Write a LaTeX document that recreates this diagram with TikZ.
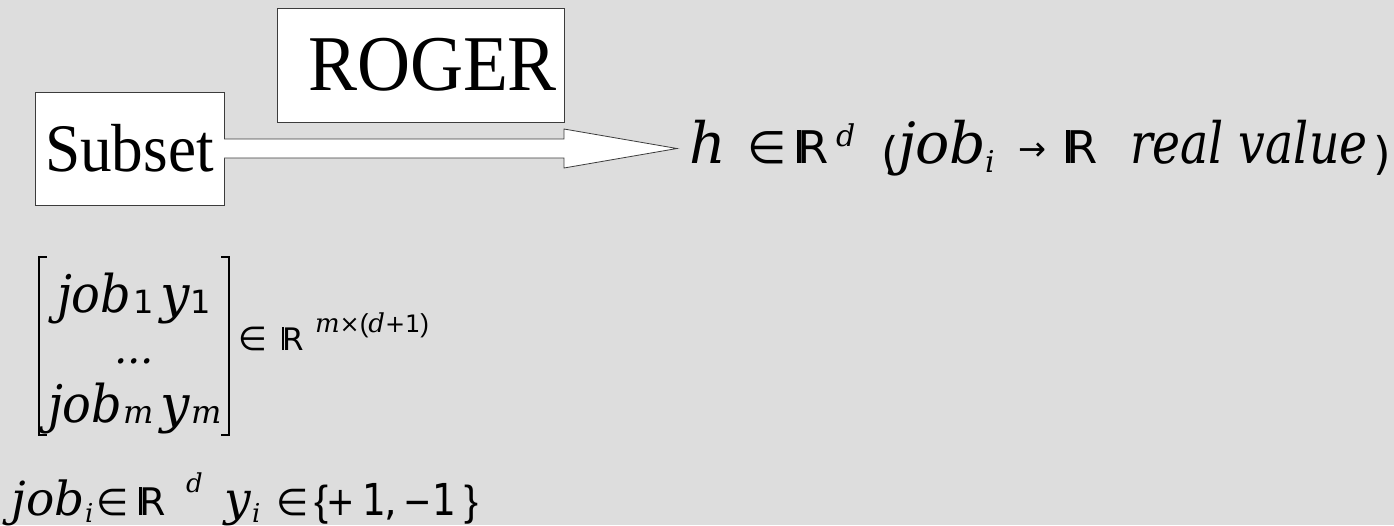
\documentclass[tikz,border=0pt]{standalone}
\usepackage{fontspec}
\usepackage{graphicx}
\usetikzlibrary{calc}
\newfontfamily\fser{DejaVu Serif}
\newfontfamily\fsan{DejaVu Sans}
\newfontfamily\fari{Liberation Sans}
\newfontfamily\ftim{Liberation Serif}
\newcommand\It[3][1]{\scalebox{#1}[1]{\fontsize{#2}{#2}\selectfont\fser\itshape #3}}
\newcommand\Sn[3][1]{\scalebox{#1}[1]{\fontsize{#2}{#2}\selectfont\fsan #3}}
\newcommand\Ar[2]{\scalebox{1}[1]{\fontsize{#1}{#1}\selectfont\fari #2}}
\newcommand\dR[1]{{\fontsize{#1}{#1}\selectfont\fsan\rule{0.08em}{0.729em}\kern-0.06em R}}
\definecolor{bgc}{RGB}{221,221,221}
\definecolor{edge}{RGB}{60,60,60}
\tikzset{
  t/.style={anchor=base west, inner sep=0pt, outer sep=0pt, text=black},
  glyph/.style={inner sep=0pt, outer sep=0pt, text=black},
  boxnode/.style={draw=edge, line width=1pt, fill=white, inner sep=0pt, outer sep=0pt},
  bigarrow/.style={draw=edge, line width=0.8pt, fill=white, line join=miter},
  brk/.style={line width=2.2pt, black}
}
\begin{document}
\begin{tikzpicture}[x=1pt,y=1pt]
\fill[bgc] (0,0) rectangle (1394,-525);
\useasboundingbox (0,0) rectangle (1394,-525);
% boxes
\node[boxnode, minimum width=189pt, minimum height=113pt] (subset) at (129.5,-148.5)
  {\raisebox{-3pt}{\scalebox{0.93}[1]{\fontsize{68}{68}\selectfont\ftim Subset}}};
\node[boxnode, minimum width=287pt, minimum height=114pt] (roger) at (420.5,-65)
  {\makebox[273pt][r]{\scalebox{0.93}[1]{\fontsize{79}{79}\selectfont\ftim ROGER}}};
% arrow
\coordinate (tip) at (677,-148.5);
\coordinate (hb) at (564,-148.5);
\draw[bigarrow] ($(subset.east)+(0,9.5)$) -- ($(hb)+(0,9.5)$) -- ($(hb)+(0,19.5)$) -- (tip)
  -- ($(hb)+(0,-19.5)$) -- ($(hb)+(0,-9.5)$) -- ($(subset.east)+(0,-9.5)$);
% top formula
\node[t] (h) at (689,-163) {\It{57}{h}};
\node[t] (in1) at (747,-163) {\Sn{45}{∈}};
\node[t] (R1) at (797,-163) {\dR{45}};
\node[t] (d1) at (836,-146) {\It{30}{d}};
\node[glyph, anchor=north west] (lp) at (881,-135) {\resizebox*{!}{40pt}{\fsan(}};
\node[t] (job1) at (898,-163) {\It{57}{job}};
\node[t] (i1) at (985,-172) {\It{30}{i}};
\node[glyph, anchor=west] (ar) at (1018,-152) {\resizebox{28pt}{!}{\fsan →}};
\node[t] (R2) at (1066,-163) {\dR{45}};
\node[t] (rv) at (1130,-163) {\It[0.83]{57}{real value}};
\node[glyph, anchor=north west] (rp) at (1373,-135) {\resizebox*{!}{40pt}{\fsan)}};
% matrix
\node[t] (mj1) at (57,-312) {\It[0.92]{52}{job}};
\node[t] (ms1) at (133,-313) {\Sn{32}{1}};
\node[t] (my1) at (160,-312) {\It{52}{y}};
\node[t] (mt1) at (190,-313) {\Sn{32}{1}};
\node[t] (mdots) at (114,-363) {\It{42}{...}};
\node[t] (mj2) at (48,-422) {\It[0.92]{52}{job}};
\node[t] (ms2) at (123,-423) {\It{32}{m}};
\node[t] (my2) at (160,-422) {\It{52}{y}};
\node[t] (mt2) at (191,-423) {\It{32}{m}};
\draw[brk] (47,-257) -- (39,-257) -- (39,-435) -- (47,-435);
\draw[brk] (221,-257) -- (229,-257) -- (229,-435) -- (221,-435);
\node[t] (min) at (238,-350) {\Sn{33}{∈}};
\node[t] (mR) at (282,-350) {\dR{31}};
\node[t] (msup) at (315,-332) {\It{26}{m}\Sn{24}{×}\Ar{26}{(}\It{26}{d}\Sn{24}{+1}\Ar{26}{)}};
% bottom line
\node[t] (bj) at (12,-515) {\It{47}{job}};
\node[t] (bi) at (85,-522) {\It{26}{i}};
\node[t] (bin) at (96,-515) {\Sn{37}{∈}};
\node[t] (bR) at (139,-515) {\dR{38}};
\node[t] (bd) at (186,-492) {\It{26}{d}};
\node[t] (by) at (224,-515) {\It{47}{y}};
\node[t] (byi) at (252,-522) {\It{26}{i}};
\node[t] (bin2) at (276,-515) {\Sn{37}{∈}};
\node[t] (blb) at (314,-515) {\Ar{42}{\{}};
\node[t] (bplus) at (326,-515) {\Sn[0.85]{40}{+}};
\node[t] (bone) at (362,-515) {\Sn[0.85]{44}{1}};
\node[t] (bcomma) at (384,-515) {\Sn{40}{,}};
\node[t] (bminus) at (403,-515) {\Sn[0.85]{40}{−}};
\node[t] (btwo) at (432,-515) {\Sn[0.85]{44}{1}};
\node[t] (brb) at (464,-515) {\Ar{42}{\}}};
\end{tikzpicture}
\end{document}
